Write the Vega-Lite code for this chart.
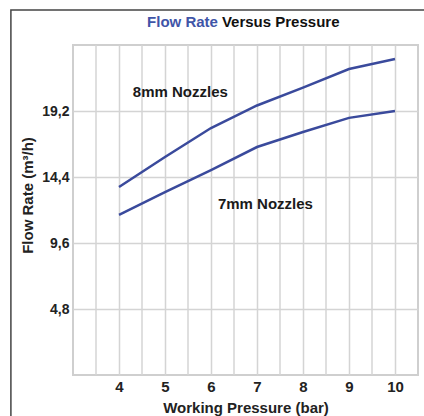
{
  "$schema": "https://vega.github.io/schema/vega-lite/v6.json",
  "autosize": {"type": "none"},
  "width": 345,
  "height": 330,
  "padding": {"left": 73, "top": 45, "right": 6, "bottom": 41},
  "background": "white",
  "config": {
    "view": {"stroke": "#cfcfcf", "strokeWidth": 2},
    "font": "Liberation Sans",
    "axis": {"labelFont": "Liberation Sans", "titleFont": "Liberation Sans"}
  },
  "datasets": {
    "flow": [
      {"pressure": 4, "rate": 13.67, "nozzle": "8mm"},
      {"pressure": 5, "rate": 15.85, "nozzle": "8mm"},
      {"pressure": 6, "rate": 17.96, "nozzle": "8mm"},
      {"pressure": 7, "rate": 19.6, "nozzle": "8mm"},
      {"pressure": 8, "rate": 20.9, "nozzle": "8mm"},
      {"pressure": 9, "rate": 22.25, "nozzle": "8mm"},
      {"pressure": 10, "rate": 22.98, "nozzle": "8mm"},
      {"pressure": 4, "rate": 11.64, "nozzle": "7mm"},
      {"pressure": 5, "rate": 13.3, "nozzle": "7mm"},
      {"pressure": 6, "rate": 14.9, "nozzle": "7mm"},
      {"pressure": 7, "rate": 16.58, "nozzle": "7mm"},
      {"pressure": 8, "rate": 17.67, "nozzle": "7mm"},
      {"pressure": 9, "rate": 18.7, "nozzle": "7mm"},
      {"pressure": 10, "rate": 19.2, "nozzle": "7mm"}
    ],
    "halfgrid": [
      {"x": 3.5}, {"x": 4.5}, {"x": 5.5}, {"x": 6.5}, {"x": 7.5}, {"x": 8.5}, {"x": 9.5}
    ],
    "labels": [
      {"x": 4.3, "y": 20.58, "text": "8mm Nozzles"},
      {"x": 6.15, "y": 12.44, "text": "7mm Nozzles"}
    ],
    "frame": [
      {"x": 1.65, "x2": 11.5, "y": 26.55, "y2": -4}
    ],
    "titleA": [{"x": 6.15, "y": 25.67, "text": "Flow Rate"}],
    "titleB": [{"x": 6.15, "y": 25.67, "text": "Versus Pressure"}]
  },
  "layer": [
    {
      "data": {"name": "halfgrid"},
      "mark": {"type": "rule", "color": "#d4d4d4", "strokeWidth": 1.5},
      "encoding": {
        "x": {"field": "x", "type": "quantitative"}
      }
    },
    {
      "data": {"name": "flow"},
      "mark": {"type": "line", "color": "#3a4a9c", "strokeWidth": 2.5},
      "encoding": {
        "x": {
          "field": "pressure", "type": "quantitative",
          "scale": {"domain": [3, 10.5], "nice": false, "zero": false},
          "axis": {
            "values": [4, 5, 6, 7, 8, 9, 10],
            "grid": true, "gridColor": "#d4d4d4", "gridWidth": 1.5,
            "ticks": false, "domain": false,
            "labelFontSize": 15, "labelFontWeight": "bold", "labelColor": "#222",
            "labelPadding": 4,
            "title": "Working Pressure (bar)", "titleFontSize": 15, "titleFontWeight": "bold",
            "titleColor": "#222", "titlePadding": 6
          }
        },
        "y": {
          "field": "rate", "type": "quantitative",
          "scale": {"domain": [0, 24], "nice": false},
          "axis": {
            "values": [4.8, 9.6, 14.4, 19.2],
            "labelExpr": "replace(format(datum.value, '.1f'), '.', ',')",
            "grid": true, "gridColor": "#d4d4d4", "gridWidth": 1.5,
            "ticks": false, "domain": false,
            "labelFontSize": 14, "labelFontWeight": "bold", "labelColor": "#222",
            "labelPadding": 4,
            "title": "Flow Rate (m³/h)", "titleFontSize": 15, "titleFontWeight": "bold",
            "titleColor": "#222", "titlePadding": 6, "titleY": 150
          }
        },
        "detail": {"field": "nozzle"}
      }
    },
    {
      "data": {"name": "labels"},
      "mark": {"type": "text", "align": "left", "baseline": "middle", "fontSize": 15, "fontWeight": "bold", "color": "#1a1a1a"},
      "encoding": {
        "x": {"field": "x", "type": "quantitative"},
        "y": {"field": "y", "type": "quantitative"},
        "text": {"field": "text"}
      }
    },
    {
      "data": {"name": "titleA"},
      "mark": {"type": "text", "align": "right", "baseline": "middle", "fontSize": 15, "fontWeight": "bold", "color": "#3f55a8", "clip": false},
      "encoding": {
        "x": {"field": "x", "type": "quantitative"},
        "y": {"field": "y", "type": "quantitative"},
        "text": {"field": "text"}
      }
    },
    {
      "data": {"name": "titleB"},
      "mark": {"type": "text", "align": "left", "baseline": "middle", "dx": 4, "fontSize": 15, "fontWeight": "bold", "color": "#111", "clip": false},
      "encoding": {
        "x": {"field": "x", "type": "quantitative"},
        "y": {"field": "y", "type": "quantitative"},
        "text": {"field": "text"}
      }
    },
    {
      "data": {"name": "frame"},
      "mark": {"type": "rect", "fill": null, "fillOpacity": 0, "stroke": "#444", "strokeWidth": 1.5, "clip": false},
      "encoding": {
        "x": {"field": "x", "type": "quantitative"},
        "x2": {"field": "x2"},
        "y": {"field": "y", "type": "quantitative"},
        "y2": {"field": "y2"}
      }
    }
  ]
}
